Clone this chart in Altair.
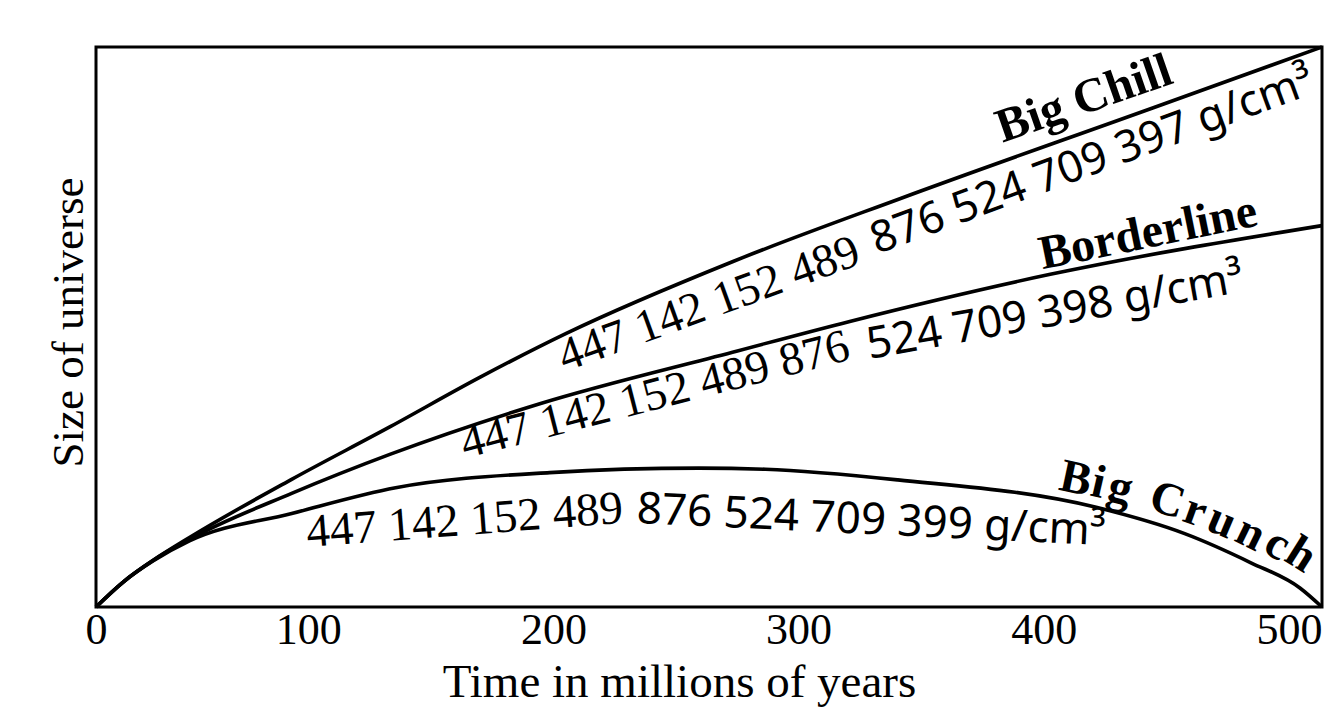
import altair as alt
import pandas as pd

# ---- curves (time in millions of years, relative size of universe) ----
time_chill = [0, 11.2, 23.2, 38.1, 79.8, 120, 156.5, 192, 259.8, 328.4, 431.5, 500]
size_chill = [0, 4.5, 8.3, 12.4, 22.8, 32.2, 41.0, 48.9, 61.7, 73.0, 89.2, 100]

time_border = [0, 11.2, 23.2, 38.1, 79.8, 120.1, 181, 259.6, 307.4, 389.2, 500]
size_border = [0, 4.5, 8.3, 12.1, 20.3, 27.3, 36.3, 45.5, 51.0, 59.4, 68.1]

time_crunch = [0, 11.2, 23.2, 38.1, 79.8, 122.2, 185, 245.9, 273, 327, 407.9, 444, 471, 491, 500]
size_crunch = [0, 4.5, 8.2, 11.8, 16.7, 21.3, 24.0, 24.8, 24.6, 22.7, 17.8, 13.1, 7.9, 3.4, 0]

# ---- density labels (serif part + sans part) ----
serif_text = ["447 142 152 489", "447 142 152 489 876", "447 142 152 489"]
serif_x = [191.2, 150.5, 86.3]
serif_y = [42.0, 26.5, 10.7]
serif_angle = [340, 345.6, 355.6]

sans_text = ["876 524 709 397 g/cm³", "524 709 398 g/cm³", "876 524 709 399 g/cm³"]
sans_x = [318.5, 315.5, 220.3]
sans_y = [63.0, 44.3, 15.0]
sans_angle = [339.8, 349.8, 2.7]

# ---- scenario names ----
name_text = ["Big Chill", "Borderline"]
name_x = [369.7, 386.0]
name_y = [82.9, 60.3]
name_angle = [340.8, 348.5]

crunch_letters = ["B", "i", "g", "C", "r", "u", "n", "c", "h"]
crunch_x = [398.4, 407.6, 416.4, 435.2, 446.4, 457.0, 468.4, 479.0, 488.4]
crunch_y = [20.4, 19.7, 18.8, 16.6, 14.8, 13.0, 10.9, 9.0, 7.2]
crunch_angle = [12, 13, 14, 17, 20, 23, 26, 29, 32]

x_ticks = [0, 100, 200, 300, 400, 500]

# ---- tables ----
curves = pd.concat([
    pd.DataFrame({"t": time_chill, "s": size_chill, "series": "Big Chill"}),
    pd.DataFrame({"t": time_border, "s": size_border, "series": "Borderline"}),
    pd.DataFrame({"t": time_crunch, "s": size_crunch, "series": "Big Crunch"}),
], ignore_index=True)
serif_df = pd.DataFrame({"t": serif_x, "s": serif_y, "label": serif_text, "a": serif_angle})
sans_df = pd.DataFrame({"t": sans_x, "s": sans_y, "label": sans_text, "a": sans_angle})
name_df = pd.DataFrame({"t": name_x, "s": name_y, "label": name_text, "a": name_angle})
crunch_df = pd.DataFrame({"t": crunch_x, "s": crunch_y, "label": crunch_letters, "a": crunch_angle})

SERIF = "Liberation Serif"
SANS = "Noto Sans"

xs = alt.Scale(domain=[0, 500], nice=False, zero=False)
ys = alt.Scale(domain=[0, 100], nice=False, zero=False)

x_axis = alt.Axis(
    values=x_ticks, title="Time in millions of years", domain=False, ticks=False, tickSize=0,
    grid=False, labelFont=SERIF, labelFontSize=44, labelColor="black",
    labelBaseline="alphabetic", labelPadding=36, labelFlush=False, labelOverlap=False,
    labelAlign={"condition": {"test": "datum.value == 500", "value": "right"}, "value": "center"},
    labelOffset={"condition": {"test": "datum.value > 0 && datum.value < 500", "value": -33}, "value": 0},
    titleFont=SERIF, titleFontSize=47, titleFontWeight="normal", titleColor="black",
    titleX=583, titleY=89, titleBaseline="alphabetic", titleAlign="center",
)
y_axis = alt.Axis(
    title="Size of universe", labels=False, ticks=False, domain=False, grid=False,
    titleFont=SERIF, titleFontSize=45, titleFontWeight="normal", titleColor="black",
    titleAngle=270, titleX=-14, titleY=275, titleBaseline="alphabetic", titleAlign="center",
)

lines = alt.Chart(curves).mark_line(
    interpolate="monotone", color="black", strokeWidth=3.6
).encode(
    x=alt.X("t:Q", scale=xs, axis=x_axis),
    y=alt.Y("s:Q", scale=ys, axis=y_axis),
    detail="series:N",
)


def text_layer(df, font, size, weight, align):
    return alt.Chart(df).mark_text(
        font=font, fontSize=size, fontWeight=weight, align=align,
        baseline="alphabetic", color="black",
    ).encode(
        x=alt.X("t:Q", scale=xs, axis=x_axis),
        y=alt.Y("s:Q", scale=ys, axis=y_axis),
        text="label:N",
        angle=alt.Angle("a:Q", scale=None),
    )


serif_layer = text_layer(serif_df, SERIF, 47, "normal", "left")
sans_layer = text_layer(sans_df, SANS, 44, "normal", "left")
name_layer = text_layer(name_df, SERIF, 48, "bold", "left")
crunch_layer = text_layer(crunch_df, SERIF, 47, "bold", "center")

chart = alt.layer(
    lines, serif_layer, sans_layer, name_layer, crunch_layer
).properties(
    width=1226, height=560,
    padding={"left": 88, "top": 39, "right": 8, "bottom": 100},
    autosize=alt.AutoSizeParams(type="none"),
    background="white",
).configure_view(
    stroke="black", strokeWidth=3
)

chart.save("out.html", embed_options={"renderer": "svg", "actions": False})
